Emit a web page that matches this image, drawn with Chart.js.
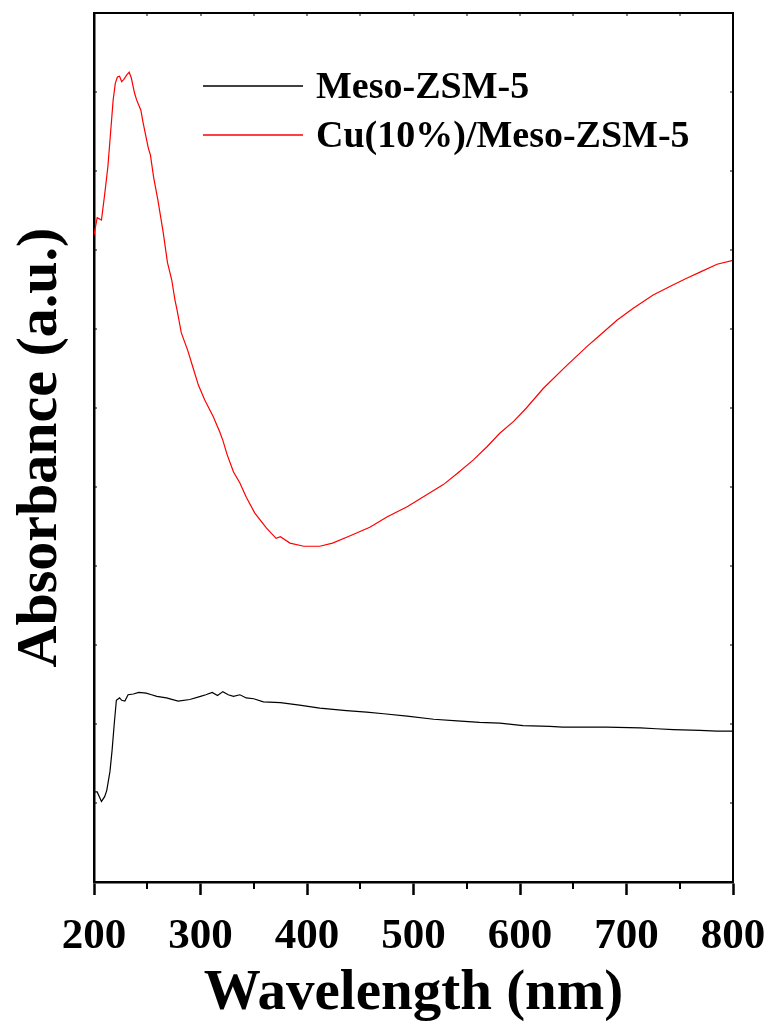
<!DOCTYPE html>
<html>
<head>
<meta charset="utf-8">
<script src="https://cdn.jsdelivr.net/npm/chart.js@4/dist/chart.umd.min.js"></script>
<style>
  html, body { margin: 0; padding: 0; background: #fff; }
  #wrap { width: 770px; height: 1028px; }
</style>
</head>
<body>
<div id="wrap"><canvas id="uvChart" width="770" height="1028"></canvas></div>
<script>
// Meso-ZSM-5 (black)
const blackWl = [200,203,207,210,212,215,217,219,221,224,226,229,232,237,242,249,254,259,268,279,
  290,300,305,311,316,321,326,331,337,343,350,359,375,393,412,437,456,472,494,519,
  541,562,581,603,628,640,650,681,713,728,744,769,785,797,800];
const blackAbs = [1.14,1.14,1.02,1.08,1.16,1.40,1.67,2.00,2.30,2.33,2.30,2.29,2.37,2.38,2.40,2.39,2.37,2.35,2.33,2.29,
  2.31,2.35,2.37,2.40,2.36,2.41,2.37,2.35,2.37,2.33,2.32,2.28,2.27,2.24,2.20,2.17,2.15,2.13,2.10,2.06,
  2.04,2.02,2.01,1.98,1.97,1.96,1.96,1.96,1.95,1.94,1.93,1.92,1.91,1.91,1.91];

// Cu(10%)/Meso-ZSM-5 (red)
const redWl = [200,203,207,210,213,215,218,220,222,224,226,228,231,233,235,238,240,244,246,251,
  253,256,260,265,269,273,276,278,282,288,293,298,304,312,318,321,325,331,337,343,
  351,362,371,375,384,397,412,424,440,459,475,494,512,528,541,556,569,581,594,606,
  622,644,663,675,691,706,725,744,756,769,785,800];
const redAbs = [8.19,8.41,8.38,8.70,9.05,9.39,9.90,10.11,10.19,10.20,10.13,10.16,10.22,10.25,10.18,9.99,9.90,9.77,9.62,9.29,
  9.20,8.92,8.63,8.22,7.84,7.62,7.37,7.24,6.95,6.73,6.51,6.29,6.10,5.89,5.70,5.59,5.41,5.19,5.05,4.87,
  4.67,4.48,4.35,4.37,4.29,4.25,4.25,4.29,4.38,4.49,4.62,4.75,4.90,5.03,5.17,5.34,5.51,5.68,5.83,6.00,
  6.25,6.54,6.78,6.92,7.11,7.26,7.43,7.56,7.64,7.72,7.82,7.87];

const seriesLabels = ["Meso-ZSM-5", "Cu(10%)/Meso-ZSM-5"];
const seriesColors = ["#000000", "#ff0000"];

const xMin = 200, xMax = 800, xMajor = 100, xMinor = 50;
const yMin = 0, yMax = 11, yStep = 1;

const FONT = "'Liberation Serif', 'Times New Roman', serif";

function toPoints(xs, ys) {
  return xs.map((x, i) => ({ x: x, y: ys[i] }));
}

// legend drawn inside the plot area, plus the small inner ticks of the frame
const framePlugin = {
  id: "frame",
  afterDraw(chart) {
    const ctx = chart.ctx;
    const xs = chart.scales.x;
    const ys = chart.scales.y;
    const a = chart.chartArea;
    ctx.save();
    ctx.strokeStyle = "#000";

    // top and right border
    ctx.lineWidth = 2;
    ctx.beginPath();
    ctx.moveTo(a.left, a.top);
    ctx.lineTo(a.right, a.top);
    ctx.lineTo(a.right, a.bottom);
    ctx.stroke();

    // minor ticks on bottom axis (outward)
    ctx.lineWidth = 2;
    for (let v = xMin + xMinor; v < xMax; v += xMajor) {
      const px = Math.round(xs.getPixelForValue(v));
      ctx.beginPath();
      ctx.moveTo(px, a.bottom);
      ctx.lineTo(px, a.bottom + 7);
      ctx.stroke();
    }
    // small inward ticks on top
    ctx.lineWidth = 1;
    for (let v = xMin + xMinor; v < xMax; v += xMinor) {
      const px = Math.round(xs.getPixelForValue(v));
      ctx.beginPath();
      ctx.moveTo(px, a.top);
      ctx.lineTo(px, a.top + 3);
      ctx.stroke();
    }
    // small inward ticks on left and right
    for (let v = yMin + yStep; v < yMax; v += yStep) {
      const py = Math.round(ys.getPixelForValue(v));
      ctx.beginPath();
      ctx.moveTo(a.left, py);
      ctx.lineTo(a.left + 3, py);
      ctx.moveTo(a.right, py);
      ctx.lineTo(a.right - 3, py);
      ctx.stroke();
    }

    // legend
    ctx.font = "bold 38px " + FONT;
    ctx.textBaseline = "middle";
    ctx.textAlign = "left";
    chart.data.datasets.forEach((ds, i) => {
      const yy = 86 + i * 49;
      ctx.strokeStyle = ds.borderColor;
      ctx.lineWidth = 1.3;
      ctx.beginPath();
      ctx.moveTo(203, yy);
      ctx.lineTo(303, yy);
      ctx.stroke();
      ctx.fillStyle = "#000";
      ctx.fillText(ds.label, 316, yy + 2);
    });
    ctx.restore();
  }
};

new Chart(document.getElementById("uvChart"), {
  type: "line",
  data: {
    datasets: [
      {
        label: seriesLabels[0],
        data: toPoints(blackWl, blackAbs),
        borderColor: seriesColors[0],
        borderWidth: 1.2,
        pointRadius: 0,
        tension: 0,
        fill: false
      },
      {
        label: seriesLabels[1],
        data: toPoints(redWl, redAbs),
        borderColor: seriesColors[1],
        borderWidth: 1.2,
        pointRadius: 0,
        tension: 0,
        fill: false
      }
    ]
  },
  options: {
    responsive: false,
    animation: false,
    layout: { padding: { top: 13, right: 37, left: 0, bottom: 0 } },
    plugins: {
      legend: { display: false },
      tooltip: { enabled: false }
    },
    scales: {
      x: {
        type: "linear",
        min: xMin,
        max: xMax,
        border: { display: true, color: "#000", width: 2.5 },
        grid: {
          display: true,
          drawOnChartArea: false,
          drawTicks: true,
          tickLength: 13,
          tickWidth: 2.5,
          tickColor: "#000"
        },
        ticks: {
          stepSize: xMajor,
          color: "#000",
          padding: 16,
          maxRotation: 0,
          font: { family: FONT, size: 43, weight: "bold" }
        },
        title: {
          display: true,
          text: "Wavelength (nm)",
          color: "#000",
          padding: { top: 0, bottom: 0 },
          font: { family: FONT, size: 57, weight: "bold" }
        },
        afterFit(scale) {
          scale.height = 146;
          scale.paddingLeft = 0;
          scale.paddingRight = 0;
        }
      },
      y: {
        type: "linear",
        min: yMin,
        max: yMax,
        border: { display: true, color: "#000", width: 2.5 },
        grid: { display: false },
        ticks: { display: false, stepSize: yStep },
        title: {
          display: true,
          text: "Absorbance (a.u.)",
          color: "#000",
          padding: { top: 6, bottom: 0 },
          font: { family: FONT, size: 58, weight: "bold" }
        },
        afterFit(scale) { scale.width = 94; }
      }
    }
  },
  plugins: [framePlugin]
});
</script>
</body>
</html>
